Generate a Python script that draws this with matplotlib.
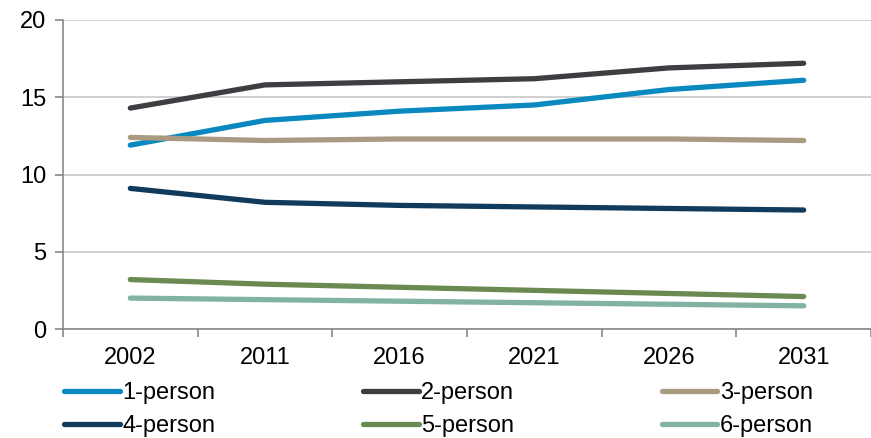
import matplotlib.pyplot as plt
import numpy as np

plt.rcParams['font.family'] = ['Liberation Sans', 'DejaVu Sans']

years = ['2002', '2011', '2016', '2021', '2026', '2031']
one_person = [11.9, 13.5, 14.1, 14.5, 15.5, 16.1]
two_person = [14.3, 15.8, 16.0, 16.2, 16.9, 17.2]
three_person = [12.4, 12.2, 12.3, 12.3, 12.3, 12.2]
four_person = [9.1, 8.2, 8.0, 7.9, 7.8, 7.7]
five_person = [3.2, 2.9, 2.7, 2.5, 2.3, 2.1]
six_person = [2.0, 1.9, 1.8, 1.7, 1.6, 1.5]

series = [
    ('1-person', one_person, '#0a88c0'),
    ('2-person', two_person, '#3d3d42'),
    ('3-person', three_person, '#a99a82'),
    ('4-person', four_person, '#113b5c'),
    ('5-person', five_person, '#6a8a52'),
    ('6-person', six_person, '#82b2a4'),
]

fig = plt.figure(figsize=(8.71, 4.38), dpi=100)
ax = fig.add_axes([63 / 871, 1 - 329 / 438, 1 - 63 / 871, 309 / 438])

x = np.arange(len(years))
lines = []
for name, vals, col in series:
    ln, = ax.plot(x, vals, color=col, lw=3.8, solid_capstyle='round', label=name)
    lines.append(ln)

ax.set_ylim(0, 20)
ax.set_xlim(-0.5, 5.478)
ax.set_yticks([0, 5, 10, 15, 20])
ax.yaxis.grid(True, color='#c8c8c8', lw=1.2)
ax.set_axisbelow(True)

ax.set_xticks(x)
ax.set_xticklabels(years)
ax.set_xticks(np.arange(-0.5, 6, 1), minor=True)
ax.tick_params(axis='x', which='major', length=0, pad=13, labelsize=17)
ax.tick_params(axis='x', which='minor', length=6, color='#888888', width=1.2)
ax.tick_params(axis='y', length=6, color='#888888', width=1.2, labelsize=17, pad=6)

for s in ['top', 'right']:
    ax.spines[s].set_visible(False)
for s in ['left', 'bottom']:
    ax.spines[s].set_color('#888888')
    ax.spines[s].set_linewidth(1.2)

# legend fills column-first, so reorder to read across rows
order = [0, 3, 1, 4, 2, 5]
fig.legend([lines[i] for i in order], [series[i][0] for i in order],
           loc='lower left', bbox_to_anchor=(63 / 871, 0.0), ncol=3, frameon=False,
           fontsize=17, handlelength=2.35, handletextpad=0.1, borderpad=0.05,
           columnspacing=6.27, labelspacing=0.45, borderaxespad=0)

fig.savefig('out.png', dpi=100)
